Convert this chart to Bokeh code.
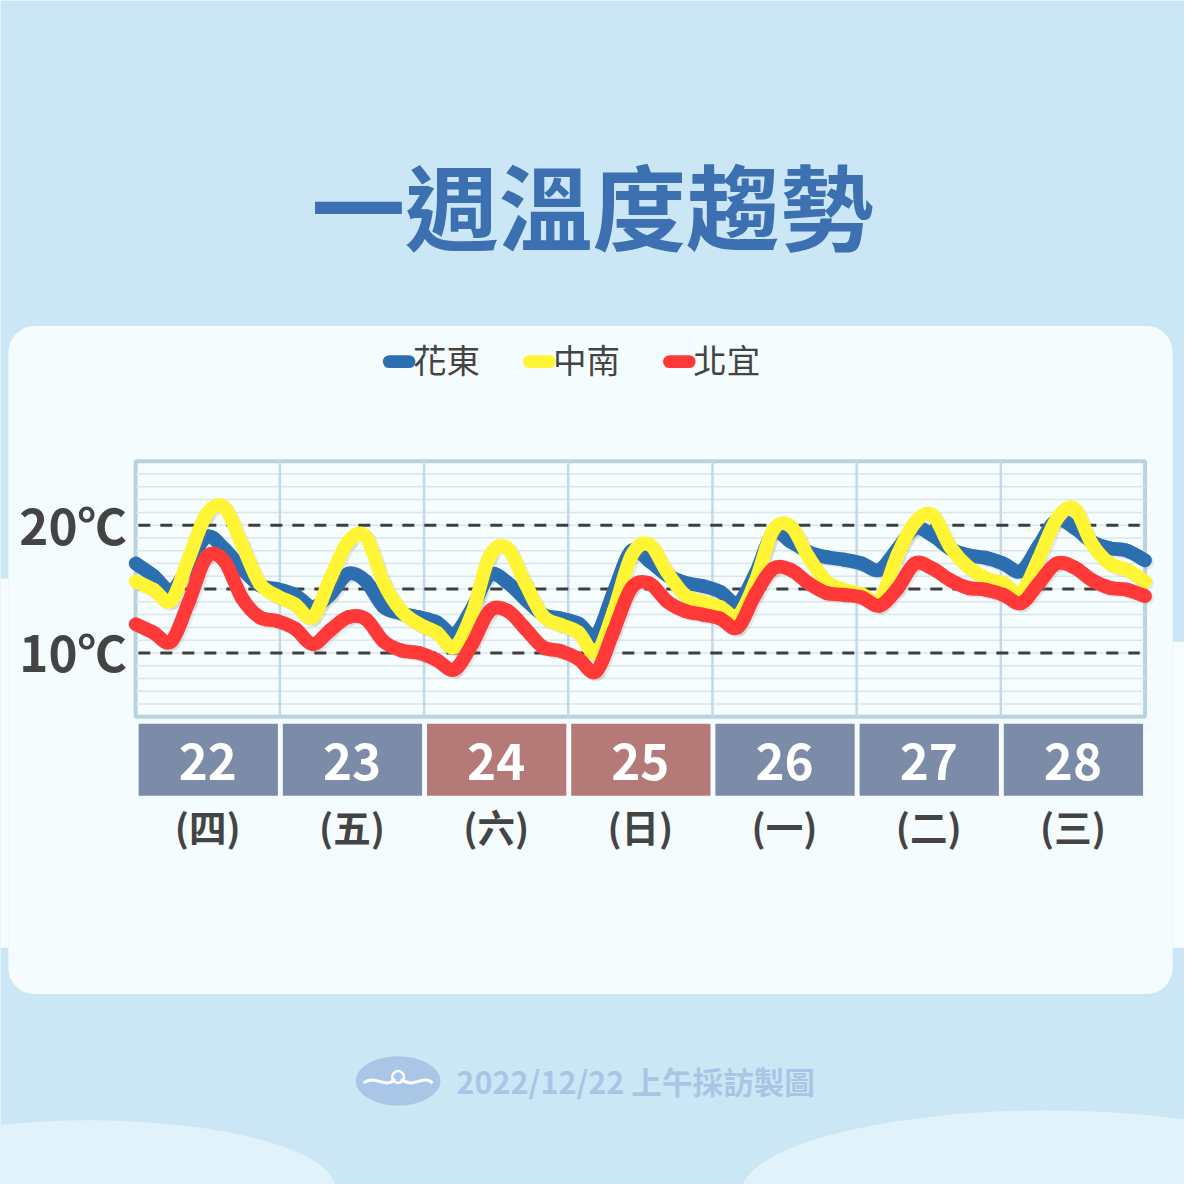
from bokeh.plotting import figure
from bokeh.models import Range1d, BoxAnnotation
from bokeh.embed import file_html
from bokeh.resources import INLINE
from bokeh.core.properties import value

# ---------------- data ----------------
title_text = "一週溫度趨勢"
footer_text = "2022/12/22 上午採訪製圖"
day_numbers = ["22", "23", "24", "25", "26", "27", "28"]
weekday_labels = ["(四)", "(五)", "(六)", "(日)", "(一)", "(二)", "(三)"]
is_weekend = [False, False, True, True, False, False, False]
series_names = ["花東", "中南", "北宜"]
y_tick_values = [20, 10]
y_tick_labels = ["20℃", "10℃"]
dashed_levels = [10, 15, 20]
temp_min, temp_max = 5, 25

# 3-hourly samples (index 0..57)
huadong = [17.0, 16.05, 14.9, 16.8, 19.1, 18.15, 16.6, 15.3, 15.0, 14.55,
           13.6, 14.6, 16.2, 15.6, 13.6, 13.1, 12.8, 12.4, 11.5, 13.5,
           16.1, 15.5, 14.2, 13.0, 12.7, 12.3, 11.4, 14.8, 18.0, 17.2,
           16.1, 15.5, 15.25, 14.8, 13.9, 16.2, 19.4, 18.7, 17.9, 17.5,
           17.3, 17.0, 16.5, 18.1, 19.75, 19.2, 18.15, 17.65, 17.45, 17.0,
           16.4, 18.4, 20.4, 19.8, 18.7, 18.2, 18.0, 17.25]
zhongnan = [15.6, 14.95, 14.1, 17.4, 20.85, 21.4, 18.5, 15.45, 14.45, 13.8,
            12.8, 15.85, 18.7, 19.1, 15.5, 13.3, 12.25, 11.6, 10.45, 13.1,
            17.6, 18.2, 15.45, 12.9, 12.2, 11.6, 10.0, 13.3, 17.6, 18.5,
            16.35, 14.55, 14.0, 13.6, 12.9, 15.6, 19.6, 19.9, 17.5, 15.6,
            14.95, 14.6, 14.05, 17.6, 20.2, 20.8, 18.3, 16.75, 15.85, 15.45,
            14.7, 17.4, 20.45, 21.3, 18.55, 17.0, 16.5, 15.6]
beiyi = [12.25, 11.6, 10.9, 14.0, 17.5, 17.2, 14.3, 12.8, 12.5, 11.9,
         10.7, 11.8, 12.8, 12.65, 10.9, 10.2, 10.0, 9.45, 8.7, 10.7,
         13.3, 13.3, 11.9, 10.45, 10.15, 9.55, 8.55, 11.75, 15.1, 15.45,
         14.05, 13.3, 13.0, 12.7, 12.0, 14.6, 16.6, 16.5, 15.45, 14.7,
         14.55, 14.35, 13.7, 15.0, 17.0, 16.6, 15.7, 15.1, 14.95, 14.55,
         13.9, 15.45, 17.0, 16.7, 15.7, 15.1, 14.95, 14.45]
series_values = [huadong, zhongnan, beiyi]
series_colors = ["#2C6FB0", "#FFF534", "#FF3838"]

# ---------------- layout (design pixels, 1200 wide) ----------------
PAGE = 1184
DESIGN = 1200
S = PAGE / DESIGN
PL, PR, PT, PB = 137, 1160, 467, 726     # plot frame (design px)
n = len(huadong)
idx = list(range(n))
px_per_idx = (PR - PL) / (n - 1)
px_per_deg = (PB - PT) / (temp_max - temp_min)
day_w = (n - 1) / len(day_numbers)

BG = "#CBE7F5"
PANEL = "#F4FCFD"
DARK = "#444444"
FONT = value("Noto Sans CJK TC")


def fs(px):
    return f"{px * S:.1f}px"


p = figure(width=PAGE, height=PAGE, output_backend="svg", toolbar_location=None,
           x_range=Range1d(0, DESIGN), y_range=Range1d(DESIGN, 0),
           x_axis_type=None, y_axis_type=None, min_border=0,
           background_fill_color=BG, border_fill_color=BG, outline_line_color=None)
p.grid.visible = False

p.extra_x_ranges["idx"] = Range1d(-PL / px_per_idx, (n - 1) + (DESIGN - PR) / px_per_idx)
p.extra_y_ranges["temp"] = Range1d(temp_min - (DESIGN - PB) / px_per_deg,
                                   temp_max + PT / px_per_deg)

# background decorations
p.ellipse(x=[90, 1060], y=[1205, 1210], width=[500, 620], height=[140, 170],
          fill_color="#E2F2FA", line_color=None)
p.quad(left=[0, 1188], right=[8, 1200], top=[586, 650], bottom=[960, 960],
       fill_color="#F7FCFE", line_color=None)
p.add_layout(BoxAnnotation(left=8, right=1188, top=330, bottom=1007, border_radius=26,
                           fill_color=PANEL, fill_alpha=1, line_color=None, level="underlay"))

# title
p.text(x=[600], y=[205], text=[title_text], text_align="center", text_baseline="middle",
       text_font=FONT, text_font_size=fs(95), text_font_style="bold", text_color="#3D70B0")

# plot frame
p.quad(left=[0], right=[n - 1], bottom=[temp_min], top=[temp_max],
       x_range_name="idx", y_range_name="temp",
       fill_color="#F6FDFE", line_color="#B9D3DE", line_width=4 * S)

minor = [t for t in range(temp_min + 1, temp_max)]
p.segment(x0=[0] * len(minor), x1=[n - 1] * len(minor), y0=minor, y1=minor,
          x_range_name="idx", y_range_name="temp", line_color="#DCE5EA", line_width=1.5)
bounds = [d * day_w for d in range(1, len(day_numbers))]
p.segment(x0=bounds, x1=bounds, y0=[temp_min] * len(bounds), y1=[temp_max] * len(bounds),
          x_range_name="idx", y_range_name="temp", line_color="#C4D8E8", line_width=2.5 * S)
p.segment(x0=[0.15] * 3, x1=[n - 1.3] * 3, y0=dashed_levels, y1=dashed_levels,
          x_range_name="idx", y_range_name="temp", line_color="#3E3E3E", line_width=3 * S,
          line_dash="12 10")

# y labels
p.text(x=[128] * 2, y=y_tick_values, text=y_tick_labels, y_range_name="temp",
       text_align="right", text_baseline="middle", y_offset=-2,
       text_font=FONT, text_font_size=fs(50), text_font_style="bold", text_color=DARK)


# smooth (Catmull-Rom) segments through the data points
def smooth_segments(vals, dx=0.0, dy=0.0):
    m = len(vals)
    seg = dict(x0=[], y0=[], x1=[], y1=[], cx0=[], cy0=[], cx1=[], cy1=[])
    for i in range(m - 1):
        a = max(i - 1, 0)
        b = min(i + 2, m - 1)
        seg["x0"].append(i + dx)
        seg["y0"].append(vals[i] + dy)
        seg["x1"].append(i + 1 + dx)
        seg["y1"].append(vals[i + 1] + dy)
        seg["cx0"].append(i + (i + 1 - a) / 6 + dx)
        seg["cy0"].append(vals[i] + (vals[i + 1] - vals[a]) / 6 + dy)
        seg["cx1"].append(i + 1 - (b - i) / 6 + dx)
        seg["cy1"].append(vals[i + 1] - (vals[b] - vals[i]) / 6 + dy)
    return seg


for vals, col in zip(series_values, series_colors):
    p.bezier(**smooth_segments(vals, 0.12, -0.15), x_range_name="idx", y_range_name="temp",
             line_color="#7A7A7A", line_alpha=0.14, line_width=14 * S, line_cap="round")
    p.bezier(**smooth_segments(vals), x_range_name="idx", y_range_name="temp",
             line_color=col, line_width=14 * S, line_cap="round")

# legend
leg_x = [388, 530, 672]
p.segment(x0=[x + 6 for x in leg_x], x1=[x + 26 for x in leg_x], y0=[366] * 3, y1=[366] * 3,
          line_color=series_colors, line_width=13 * S, line_cap="round")
p.text(x=[x + 30 for x in leg_x], y=[363] * 3, text=series_names, text_align="left",
       text_baseline="middle", text_font=FONT, text_font_size=fs(34),
       text_font_style="normal", text_color=DARK)

# day boxes
gap = 2 / px_per_idx
box_colors = ["#B57A78" if w else "#7B8BA8" for w in is_weekend]
p.quad(left=[d * day_w + gap * 1.5 for d in range(7)],
       right=[(d + 1) * day_w - gap for d in range(7)],
       top=[733] * 7, bottom=[806] * 7, x_range_name="idx",
       fill_color=box_colors, line_color=None)
centers = [(d + 0.5) * day_w for d in range(7)]
p.text(x=centers, y=[771] * 7, text=day_numbers, x_range_name="idx",
       text_align="center", text_baseline="middle",
       text_font=FONT, text_font_size=fs(50), text_font_style="bold", text_color="white")
p.text(x=centers, y=[836] * 7, text=weekday_labels, x_range_name="idx",
       text_align="center", text_baseline="middle",
       text_font=FONT, text_font_size=fs(38), text_font_style="bold", text_color=DARK)

# footer logo + text
p.ellipse(x=[403], y=[1095], width=[86], height=[50], fill_color="#A9C6E6", line_color=None)
p.bezier(x0=[368, 406], y0=[1097, 1093], x1=[400, 438], y1=[1093, 1097],
         cx0=[380, 418], cy0=[1088, 1104], cx1=[390, 428], cy1=[1104, 1088],
         line_color="white", line_width=3 * S)
p.circle(x=[403], y=[1091], radius=6, fill_color=None, line_color="white", line_width=2.5 * S)
p.text(x=[462], y=[1095], text=[footer_text], text_align="left", text_baseline="middle",
       text_font=FONT, text_font_size=fs(31), text_font_style="bold", text_color="#A8C5E5")

open("out.html", "w").write(file_html(p, INLINE))
